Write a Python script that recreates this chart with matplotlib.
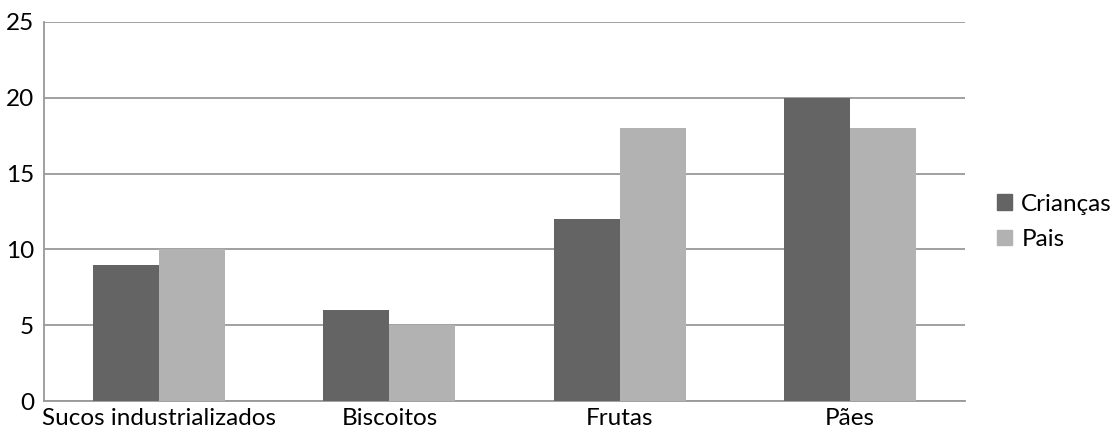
import matplotlib
matplotlib.use("Agg")
import matplotlib.pyplot as plt
import numpy as np
from matplotlib.patches import Patch

categories = ["Sucos industrializados", "Biscoitos", "Frutas", "Pães"]
criancas = [9, 6, 12, 20]
pais = [10, 5, 18, 18]
yticks = [0, 5, 10, 15, 20, 25]

plt.rcParams['font.family'] = ['Lato', 'DejaVu Sans']

fig = plt.figure(figsize=(11.19, 4.32), dpi=100)
ax = fig.add_axes([44/1119, 31/432, 921/1119, 379/432])

x = np.arange(len(categories))
w = 0.2865
dark = "#646464"
light = "#b2b2b2"
ax.bar(x - w/2, criancas, w, color=dark, zorder=3)
ax.bar(x + w/2, pais, w, color=light, zorder=3)

fs = 17.5
ax.set_xlim(-0.5, len(categories) - 0.5)
ax.set_ylim(0, 25)
ax.set_yticks(yticks)
ax.set_xticks(x)
ax.set_xticklabels(categories, fontsize=fs)
ax.tick_params(axis='y', labelsize=fs, length=0, pad=7)
ax.tick_params(axis='x', length=0, pad=5)
ax.yaxis.grid(True, color="#999999", linewidth=1.3, zorder=0)
for s in ["top", "right"]:
    ax.spines[s].set_visible(False)
for s in ["left", "bottom"]:
    ax.spines[s].set_color("#999999")
    ax.spines[s].set_linewidth(1.3)

handles = [Patch(color=dark, label="Crianças"), Patch(color=light, label="Pais")]
fig.legend(handles=handles, loc="center left", bbox_to_anchor=(997/1119, 210/432),
           frameon=False, fontsize=fs, handlelength=0.6, handleheight=0.6,
           handletextpad=0.4, labelspacing=0.6, borderpad=0, borderaxespad=0)

fig.savefig("out.png", dpi=100)
